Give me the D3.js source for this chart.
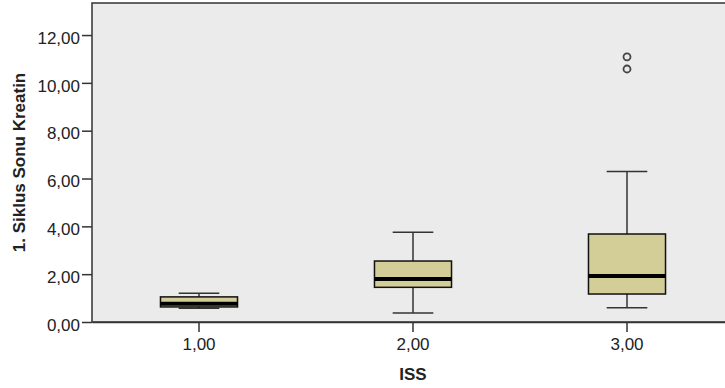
<!DOCTYPE html>
<html>
<head>
<meta charset="utf-8">
<script src="https://cdn.jsdelivr.net/npm/d3@7"></script>
<style>
  body { margin: 0; background: #fff; }
  svg { display: block; font-family: "Liberation Sans", Arial, sans-serif; }
  .axis text { font-size: 17px; fill: #222; }
  .axis path, .axis line { stroke: #333; }
</style>
</head>
<body>
<div id="chart"></div>
<script>
// ISS groups and their box plot stats
var categories  = ["1,00", "2,00", "3,00"];
var whiskerLow  = [0.57, 0.38, 0.60];
var q1          = [0.63, 1.45, 1.17];
var median      = [0.76, 1.80, 1.92];
var q3          = [1.05, 2.55, 3.68];
var whiskerHigh = [1.20, 3.75, 6.29];
var outlierCats   = ["3,00", "3,00"];
var outlierValues = [11.09, 10.58];
var yTicks = [0, 2, 4, 6, 8, 10, 12];

var w = 725, h = 388;
var padLeft = 92, padTop = 3, padBottom = 322, padRight = 734;

var boxes = categories.map(function(c, i) {
	return { cat: c, lo: whiskerLow[i], q1: q1[i], med: median[i], q3: q3[i], hi: whiskerHigh[i] };
});

var yScale = d3.scaleLinear()
	.domain([0, 13.34])
	.range([padBottom, padTop]);

var xScale = d3.scaleBand()
	.domain(categories)
	.range([padLeft, padRight])
	.padding(0);

var fmt = function(d) { return d3.format(".2f")(d).replace(".", ","); };

var svg = d3.select("#chart")
	.append("svg")
	.attr("width", w)
	.attr("height", h);

// plot background
svg.append("rect")
	.attr("x", padLeft)
	.attr("y", padTop)
	.attr("width", padRight - padLeft)
	.attr("height", padBottom - padTop)
	.attr("fill", "#ebebeb")
	.attr("stroke", "#333")
	.attr("stroke-width", 1.5);

var bw = xScale.bandwidth() * 0.36;
var cw = xScale.bandwidth() * 0.19;

var g = svg.selectAll(".box")
	.data(boxes)
	.enter()
	.append("g")
	.attr("class", "box")
	.attr("transform", function(d) { return "translate(" + (xScale(d.cat) + xScale.bandwidth() / 2) + ",0)"; });

// whisker stems
g.append("line")
	.attr("x1", 0).attr("x2", 0)
	.attr("y1", function(d) { return yScale(d.hi); })
	.attr("y2", function(d) { return yScale(d.lo); })
	.attr("stroke", "#333").attr("stroke-width", 1.5);

// whisker caps
["hi", "lo"].forEach(function(k) {
	g.append("line")
		.attr("x1", -cw / 2).attr("x2", cw / 2)
		.attr("y1", function(d) { return yScale(d[k]); })
		.attr("y2", function(d) { return yScale(d[k]); })
		.attr("stroke", "#333").attr("stroke-width", 1.5);
});

// boxes
g.append("rect")
	.attr("x", -bw / 2)
	.attr("width", bw)
	.attr("y", function(d) { return yScale(d.q3); })
	.attr("height", function(d) { return yScale(d.q1) - yScale(d.q3); })
	.attr("fill", "#d3ce97")
	.attr("stroke", "#111")
	.attr("stroke-width", 1.5);

// medians
g.append("line")
	.attr("x1", -bw / 2).attr("x2", bw / 2)
	.attr("y1", function(d) { return yScale(d.med); })
	.attr("y2", function(d) { return yScale(d.med); })
	.attr("stroke", "#000").attr("stroke-width", 4);

// outliers
svg.selectAll(".outlier")
	.data(outlierValues)
	.enter()
	.append("circle")
	.attr("class", "outlier")
	.attr("cx", function(d, i) { return xScale(outlierCats[i]) + xScale.bandwidth() / 2; })
	.attr("cy", function(d) { return yScale(d); })
	.attr("r", 3.5)
	.attr("fill", "none")
	.attr("stroke", "#444")
	.attr("stroke-width", 1.8);

// axes
var yAxis = d3.axisLeft(yScale).tickValues(yTicks).tickFormat(fmt).tickSize(10).tickSizeOuter(0);
var xAxis = d3.axisBottom(xScale).tickSize(10).tickSizeOuter(0);

var ya = svg.append("g")
	.attr("class", "axis")
	.attr("transform", "translate(" + padLeft + ",0)")
	.call(yAxis);
ya.select(".domain").remove();
ya.selectAll("line").attr("stroke-width", 1.5);
ya.selectAll("text").attr("x", -12).attr("dy", "0.48em");

var xa = svg.append("g")
	.attr("class", "axis")
	.attr("transform", "translate(0," + padBottom + ")")
	.call(xAxis);
xa.select(".domain").attr("stroke-width", 1.5);
xa.selectAll("line").attr("stroke-width", 1.5);
xa.selectAll("text").attr("y", 16).attr("dy", "0.71em");

// axis titles
svg.append("text")
	.attr("transform", "translate(25," + ((padTop + padBottom) / 2) + ") rotate(-90)")
	.attr("text-anchor", "middle")
	.attr("font-size", 17)
	.attr("font-weight", "bold")
	.attr("fill", "#222")
	.text("1. Siklus Sonu Kreatin");

svg.append("text")
	.attr("x", xScale("2,00") + xScale.bandwidth() / 2)
	.attr("y", 380)
	.attr("text-anchor", "middle")
	.attr("font-size", 17)
	.attr("font-weight", "bold")
	.attr("fill", "#222")
	.text("ISS");
</script>
</body>
</html>
